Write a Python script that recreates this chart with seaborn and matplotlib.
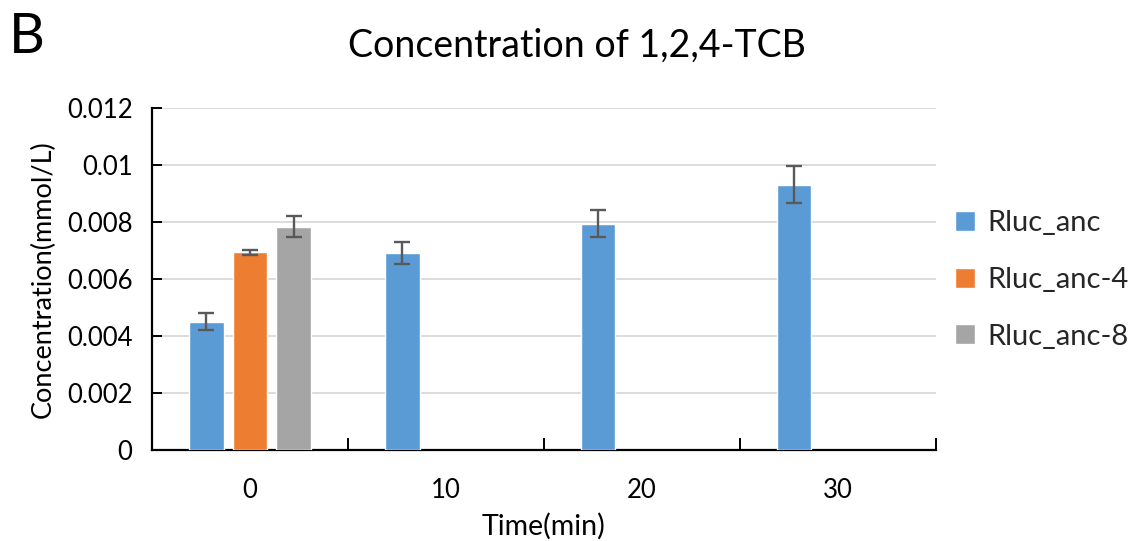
import numpy as np
import pandas as pd
import matplotlib
matplotlib.use("Agg")
import matplotlib.pyplot as plt
import seaborn as sns
from matplotlib.ticker import FixedLocator, NullFormatter

# Measured concentrations (mmol/L) and their standard deviations
times = ["0", "10", "20", "30"]
series = ["Rluc_anc", "Rluc_anc-4", "Rluc_anc-8"]
rluc_anc = [0.00451, 0.00691, 0.00794, 0.00931]
rluc_anc_sd = [0.00029, 0.00038, 0.00047, 0.00065]
rluc_anc4 = [0.00694]
rluc_anc4_sd = [0.00009]
rluc_anc8 = [0.00784]
rluc_anc8_sd = [0.00036]
y_ticks = [0, 0.002, 0.004, 0.006, 0.008, 0.01, 0.012]
y_tick_labels = ["0", "0.002", "0.004", "0.006", "0.008", "0.01", "0.012"]

palette = {"Rluc_anc": "#5B9BD5", "Rluc_anc-4": "#ED7D31", "Rluc_anc-8": "#A5A5A5"}

rows = []
for t, v, s in zip(times, rluc_anc, rluc_anc_sd):
    rows.append((t, "Rluc_anc", v, s))
for t, v, s in zip(times, rluc_anc4, rluc_anc4_sd):
    rows.append((t, "Rluc_anc-4", v, s))
for t, v, s in zip(times, rluc_anc8, rluc_anc8_sd):
    rows.append((t, "Rluc_anc-8", v, s))
df = pd.DataFrame(rows, columns=["time", "series", "conc", "sd"])

sns.set_theme(style="white")
plt.rcParams["font.family"] = ["Lato", "DejaVu Sans"]

fig = plt.figure(figsize=(11.29, 5.41), dpi=100)
ax = fig.add_axes([0.1346, 0.168, 0.6944, 0.6324])

sns.barplot(data=df, x="time", y="conc", hue="series", order=times,
            hue_order=series, palette=palette, width=0.672, gap=0.205,
            errorbar=None, saturation=1, ax=ax, legend=True, zorder=3)

# error bars placed on each drawn bar
n = len(series)
slot = 0.672 / n
for _, r in df.iterrows():
    xi = times.index(r["time"]) + (series.index(r["series"]) - (n - 1) / 2) * slot
    ax.errorbar(xi, r["conc"], yerr=r["sd"], fmt="none", ecolor="#595959",
                elinewidth=1.7, capsize=5.5, capthick=1.7, zorder=4)

ax.set_ylim(0, 0.012)
ax.set_xlim(-0.5, len(times) - 0.5)
ax.yaxis.set_major_locator(FixedLocator(y_ticks))
ax.set_yticklabels(y_tick_labels)
ax.yaxis.grid(True, color="#D9D9D9", linewidth=1.3, zorder=0)
ax.set_axisbelow(True)

for side in ["top", "right"]:
    ax.spines[side].set_visible(False)
for side in ["left", "bottom"]:
    ax.spines[side].set_color("black")
    ax.spines[side].set_linewidth(1.6)

ax.tick_params(axis="y", direction="in", length=7, width=1.4, color="black",
               labelsize=18.5, pad=14, left=True)
ax.tick_params(axis="x", which="major", length=0, labelsize=18.5, pad=20)
ax.xaxis.set_minor_locator(FixedLocator([0.5, 1.5, 2.5, 3.5]))
ax.xaxis.set_minor_formatter(NullFormatter())
ax.tick_params(axis="x", which="minor", direction="in", length=8.5, width=1.4,
               color="black", bottom=True)

ax.set_xlabel("Time(min)", fontsize=20.5, labelpad=7)
ax.set_ylabel("Concentration(mmol/L)", fontsize=19.5, labelpad=8)
for lab in ax.get_xticklabels() + ax.get_yticklabels():
    lab.set_color("black")
ax.xaxis.label.set_color("black")
ax.yaxis.label.set_color("black")

ax.legend(loc="center left", bbox_to_anchor=(955 / 1129, 1 - 280 / 541),
          bbox_transform=fig.transFigure, borderaxespad=0, borderpad=0,
          frameon=False, fontsize=21, handlelength=0.68, handleheight=0.68,
          labelspacing=1.05, handletextpad=0.42)

fig.text(0.511, 0.915, "Concentration of 1,2,4-TCB", ha="center", va="center",
         fontsize=27, color="black")
fig.text(0.008, 0.93, "B", ha="left", va="center", fontsize=40, color="black")

fig.savefig("out.png", dpi=100)
